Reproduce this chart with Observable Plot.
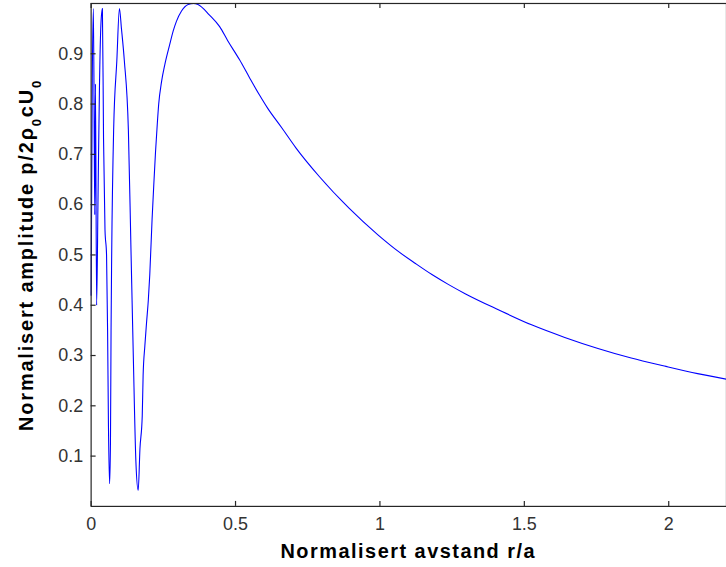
<!DOCTYPE html>
<html><head><meta charset="utf-8">
<script src="https://cdn.jsdelivr.net/npm/d3@7"></script>
<script src="https://cdn.jsdelivr.net/npm/@observablehq/plot@0.6"></script>
<style>
html,body{margin:0;padding:0;background:#fff;overflow:hidden;}
</style></head><body><div id="chart"></div>
<script>
// r/a values
const xValues = [
  0.000, 0.004, 0.008, 0.0125, 0.015, 0.019, 0.024, 0.029, 0.034, 0.039,
  0.043, 0.048, 0.0534, 0.057, 0.060, 0.064, 0.067, 0.069, 0.071, 0.078,
  0.089, 0.098, 0.105, 0.115, 0.129, 0.138, 0.146, 0.155, 0.163, 0.169,
  0.177, 0.180, 0.186, 0.192, 0.198, 0.203, 0.211, 0.217, 0.223, 0.229,
  0.234, 0.244, 0.255, 0.272, 0.284, 0.295, 0.313, 0.336, 0.355, 0.370,
  0.410, 0.445, 0.473, 0.514, 0.548, 0.583, 0.611, 0.660, 0.709, 0.790,
  0.893, 0.993, 1.066, 1.123, 1.180, 1.238, 1.295, 1.410, 1.525, 1.640,
  1.755, 1.870, 1.985, 2.100, 2.200
];
// normalised amplitude values
const yValues = [
  0.420, 0.850, 0.990, 0.580, 0.840, 0.400, 0.620, 0.840, 0.960, 0.990,
  0.730, 0.550, 0.500, 0.350, 0.160, 0.045, 0.130, 0.350, 0.490, 0.750,
  0.886, 0.990, 0.950, 0.886, 0.748, 0.510, 0.300, 0.089, 0.032, 0.114,
  0.180, 0.260, 0.319, 0.366, 0.410, 0.460, 0.570, 0.640, 0.705, 0.760,
  0.800, 0.845, 0.878, 0.918, 0.945, 0.964, 0.985, 0.998, 1.000, 0.998,
  0.977, 0.954, 0.926, 0.888, 0.853, 0.818, 0.792, 0.753, 0.713, 0.656,
  0.593, 0.540, 0.506, 0.483, 0.461, 0.441, 0.423, 0.391, 0.361, 0.336,
  0.314, 0.295, 0.279, 0.264, 0.253
];
const xTicks = [0, 0.5, 1, 1.5, 2];
const xTickLabels = ["0", "0.5", "1", "1.5", "2"];
const yTicks = [0.1, 0.2, 0.3, 0.4, 0.5, 0.6, 0.7, 0.8, 0.9];
const yTickLabels = ["0.1", "0.2", "0.3", "0.4", "0.5", "0.6", "0.7", "0.8", "0.9"];
const xLabel = "Normalisert avstand r/a";
const yLabelMain = "Normalisert amplitude p/2\u03C1";
const yLabelSub1 = "0";
const yLabelMid = "cU";
const yLabelSub2 = "0";

const data = xValues.map((x, i) => ({x, y: yValues[i]}));
const axisColor = "#262626";
const fmtX = d => xTickLabels[xTicks.indexOf(d)];
const fmtY = d => yTickLabels[yTicks.indexOf(d)];

const W = 729, H = 567, mL = 91, mR = 0, mT = 3, mB = 59, tick = 5;
const innerW = W - mL - mR, innerH = H - mT - mB;

const chart = Plot.plot({
  width: W, height: H,
  marginLeft: mL, marginRight: mR, marginTop: mT, marginBottom: mB,
  style: {fontFamily: "Arial, 'Liberation Sans', sans-serif", background: "#fff", color: "#333", overflow: "visible"},
  x: {domain: [0, 2.2]},
  y: {domain: [0, 1]},
  marks: [
    Plot.line(data, {x: "x", y: "y", stroke: "#0000ff", strokeWidth: 1.1, curve: "monotone-x"}),
    Plot.frame({stroke: axisColor, strokeWidth: 1.2}),
    // inward tick marks
    Plot.ruleX(xTicks, {x: d => d, insetTop: innerH - tick, stroke: axisColor, strokeWidth: 1.2}),
    Plot.ruleX(xTicks, {x: d => d, insetBottom: innerH - tick, stroke: axisColor, strokeWidth: 1.2}),
    Plot.ruleY(yTicks, {y: d => d, insetRight: innerW - tick, stroke: axisColor, strokeWidth: 1.2}),
    // tick labels
    Plot.axisX(xTicks, {anchor: "bottom", tickSize: 0, tickPadding: 10.5, tickFormat: fmtX, fontSize: 18, label: null}),
    Plot.axisY(yTicks, {anchor: "left", tickSize: 0, tickPadding: 8, tickFormat: fmtY, fontSize: 18, label: null})
  ]
});
document.getElementById("chart").appendChild(chart);

const svg = d3.select(chart);
svg.append("text")
  .attr("x", 410).attr("y", 560)
  .attr("text-anchor", "middle")
  .attr("font-family", "Arial, 'Liberation Sans', sans-serif")
  .attr("font-weight", "bold").attr("font-size", 20)
  .attr("letter-spacing", "1.5px")
  .attr("fill", "#000")
  .text(xLabel);

const yl = svg.append("text")
  .attr("transform", "translate(33,256) rotate(-90)")
  .attr("text-anchor", "middle")
  .attr("font-family", "Arial, 'Liberation Sans', sans-serif")
  .attr("font-weight", "bold").attr("font-size", 20)
  .attr("letter-spacing", "1.85px")
  .attr("fill", "#000");
yl.append("tspan").text(yLabelMain);
yl.append("tspan").attr("dy", 8).attr("font-size", 13).text(yLabelSub1);
yl.append("tspan").attr("dy", -8).text(yLabelMid);
yl.append("tspan").attr("dy", 8).attr("font-size", 13).text(yLabelSub2);
</script></body></html>
